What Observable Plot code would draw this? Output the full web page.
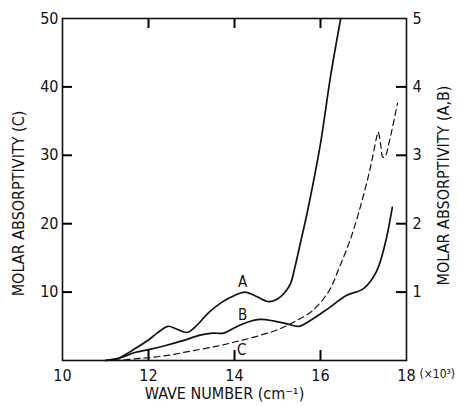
<!DOCTYPE html>
<html><head><meta charset="utf-8">
<script src="https://cdn.jsdelivr.net/npm/d3@7"></script>
<script src="https://cdn.jsdelivr.net/npm/@observablehq/plot@0.6"></script>
<style>body{margin:0;background:#fff}</style>
</head><body><div id="chart"></div>
<script>
// Curve A (right axis, A,B units)
const waveA = [11.0, 11.3, 11.5, 11.7, 12.0, 12.2, 12.45, 12.65, 12.9, 13.1, 13.4, 13.7, 14.0, 14.25, 14.5, 14.8, 15.0, 15.15, 15.3, 15.4, 15.53, 15.7, 16.0, 16.23, 16.47];
const absA  = [0, 0.03, 0.1, 0.18, 0.3, 0.4, 0.5, 0.46, 0.41, 0.5, 0.7, 0.85, 0.95, 1.0, 0.94, 0.86, 0.9, 0.98, 1.12, 1.35, 1.71, 2.19, 3.17, 4.14, 5.0];
// Curve B (right axis, A,B units)
const waveB = [11.0, 11.3, 11.7, 12.0, 12.4, 12.8, 13.2, 13.5, 13.75, 14.0, 14.3, 14.6, 14.9, 15.2, 15.5, 15.8, 16.2, 16.6, 17.0, 17.3, 17.5, 17.67];
const absB  = [0, 0.03, 0.12, 0.16, 0.22, 0.29, 0.37, 0.4, 0.4, 0.48, 0.56, 0.6, 0.58, 0.54, 0.5, 0.6, 0.77, 0.95, 1.05, 1.3, 1.7, 2.24];
// Curve C (left axis, C units)
const waveC = [11.2, 11.8, 12.4, 13.0, 13.6, 14.0, 14.5, 15.0, 15.4, 15.8, 16.2, 16.45, 16.7, 16.95, 17.16, 17.3, 17.34, 17.4, 17.45, 17.5, 17.6, 17.79];
const absC  = [0, 0.3, 0.7, 1.4, 2.1, 2.7, 3.5, 4.5, 5.7, 7.2, 10.2, 13.8, 17.8, 23, 28.2, 32.5, 33.4, 31.5, 29.7, 29.8, 32, 37.6];

const xDomain = [10, 18];
const yDomain = [0, 50];
const xTicks = [10, 12, 14, 16, 18];
const xInnerTicks = [12, 14, 16];
const leftTicks = [10, 20, 30, 40, 50];
const leftInnerTicks = [10, 20, 30, 40];
const rightTicks = [1, 2, 3, 4, 5];
const rightInnerTicks = [1, 2, 3, 4];
const rightScaleFactor = 10; // C units per A,B unit

const labelNames = ["A", "B", "C"];
const labelWave = [14.19, 14.19, 14.17];
const labelLeftUnits = [11.4, 6.6, 1.46];

const xTitle = "WAVE NUMBER (cm⁻¹)";
const leftTitle = "MOLAR ABSORPTIVITY (C)";
const rightTitle = "MOLAR ABSORPTIVITY (A,B)";
const xUnit = "(×10³)";

const A = waveA.map((w, i) => ({w, v: absA[i] * rightScaleFactor}));
const B = waveB.map((w, i) => ({w, v: absB[i] * rightScaleFactor}));
const C = waveC.map((w, i) => ({w, v: absC[i]}));
const labels = labelNames.map((t, i) => ({t, w: labelWave[i], v: labelLeftUnits[i]}));

const FONT = "'Liberation Sans Narrow', 'DejaVu Sans Condensed', 'Liberation Sans', sans-serif";
const W = 458, H = 406, ML = 62, MR = 52, MT = 18, MB = 46;
const TICK = 10; // inward tick length, px
const fw = W - ML - MR, fh = H - MT - MB;
const tickLenX = TICK * (xDomain[1] - xDomain[0]) / fw; // in x units
const tickLenY = TICK * (yDomain[1] - yDomain[0]) / fh; // in y units
const tickStyle = {stroke: "#000", strokeWidth: 2};

const chart = Plot.plot({
  width: W, height: H,
  marginLeft: ML, marginRight: MR, marginTop: MT, marginBottom: MB,
  style: {fontFamily: FONT, fontSize: "16px", color: "#111", background: "#fff"},
  x: {domain: xDomain},
  y: {domain: yDomain},
  marks: [
    Plot.frame({stroke: "#111", strokeWidth: 1.6}),
    // tick labels
    Plot.axisX(xTicks, {anchor: "bottom", tickSize: 0, tickPadding: 9, label: null, fontSize: 16}),
    Plot.axisY(leftTicks, {anchor: "left", tickSize: 0, tickPadding: 4, label: null, fontSize: 16}),
    Plot.axisY(rightTicks.map(d => d * rightScaleFactor), {anchor: "right", tickSize: 0, tickPadding: 6, label: null, fontSize: 16, tickFormat: d => d / rightScaleFactor}),
    Plot.line(A, {x: "w", y: "v", curve: "catmull-rom", stroke: "#111", strokeWidth: 1.7}),
    Plot.line(B, {x: "w", y: "v", curve: "catmull-rom", stroke: "#111", strokeWidth: 1.7}),
    Plot.line(C, {x: "w", y: "v", curve: "catmull-rom", stroke: "#111", strokeWidth: 1.2, strokeDasharray: "6,4"}),
    // inward ticks
    Plot.ruleX(xInnerTicks, {x: d => d, y1: yDomain[0], y2: yDomain[0] + tickLenY, ...tickStyle}),
    Plot.ruleX(xInnerTicks, {x: d => d, y1: yDomain[1], y2: yDomain[1] - tickLenY, ...tickStyle}),
    Plot.ruleY(leftInnerTicks, {y: d => d, x1: xDomain[0], x2: xDomain[0] + tickLenX, ...tickStyle}),
    Plot.ruleY(rightInnerTicks, {y: d => d * rightScaleFactor, x1: xDomain[1], x2: xDomain[1] - tickLenX, ...tickStyle}),
    Plot.text(labels, {x: "w", y: "v", text: "t", fontSize: 15, fill: "#111"}),
    Plot.text([xUnit], {frameAnchor: "bottom-right", dx: 13, dy: 17, textAnchor: "start", fontSize: 12, fill: "#111"}),
    Plot.text([xTitle], {frameAnchor: "bottom", dx: -10, dy: 38, textAnchor: "middle", fontSize: 16, fill: "#111", style: "letter-spacing:1.8px"}),
    Plot.text([leftTitle], {frameAnchor: "left", dx: -44, dy: 14, rotate: -90, textAnchor: "middle", fontSize: 16, fill: "#111", style: "letter-spacing:2px"}),
    Plot.text([rightTitle], {frameAnchor: "right", dx: 37, dy: -4, rotate: -90, textAnchor: "middle", fontSize: 16, fill: "#111", style: "letter-spacing:1.5px"})
  ]
});
document.getElementById("chart").appendChild(chart);
</script>
</body></html>
